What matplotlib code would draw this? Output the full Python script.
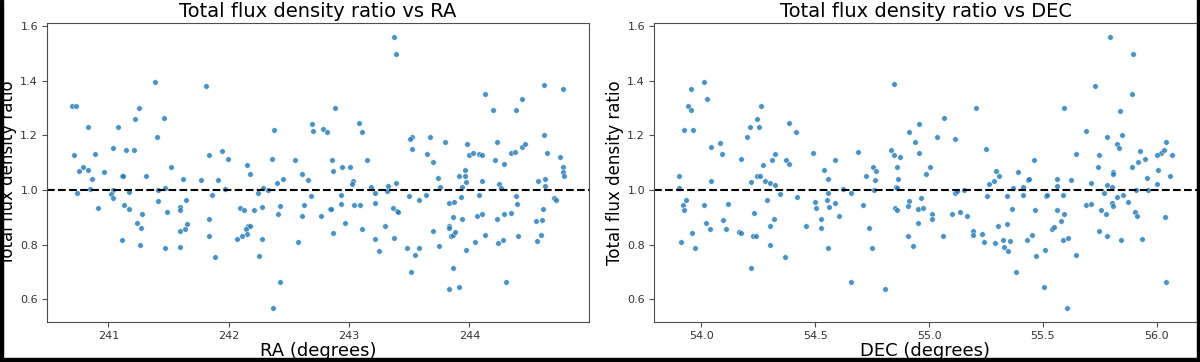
import matplotlib
matplotlib.use('Agg')
import matplotlib.pyplot as plt
from matplotlib.patches import Rectangle
import numpy as np

# Werte: RA-Panel
ra = [240.695, 240.728, 241.390, 241.814, 241.258, 241.222, 241.465, 240.828, 241.080, 241.404,
      240.715, 240.892, 241.036, 241.150, 241.216, 241.839, 241.945, 241.997, 240.753, 240.789,
      240.828, 240.867, 240.967, 241.114, 241.119, 241.313, 241.523, 241.618, 241.770, 241.909,
      240.740, 240.848, 241.036, 241.022, 241.039, 241.172, 241.415, 241.468, 241.972, 241.859,
      240.917, 241.127, 241.172, 241.415, 241.277, 241.485, 241.598, 241.598, 241.643, 241.238,
      241.271, 241.657, 241.637, 241.598, 241.834, 241.839, 241.111, 241.263, 241.471, 241.596,
      241.884,
      243.374, 243.390, 242.886, 242.692, 242.698, 242.377, 242.787, 242.820, 243.083, 243.103,
      243.526, 243.526, 242.150, 242.180, 242.358, 242.551, 242.609, 242.861, 242.867, 242.945,
      243.008, 243.152, 242.400, 242.451, 242.662, 243.036, 243.028, 242.283, 242.324, 242.244,
      242.687, 242.933, 243.183, 243.216, 243.316, 243.324, 243.390, 243.499, 242.091, 242.130,
      242.208, 242.277, 242.427, 242.626, 242.413, 242.609, 242.767, 242.838, 242.846, 242.931,
      243.039, 243.091, 243.219, 243.368, 243.399, 243.410, 242.158, 242.180, 242.141, 242.150,
      242.111, 242.072, 242.274, 242.573, 242.867, 242.964, 243.108, 243.211, 243.296, 243.371,
      243.252, 243.479, 243.546, 242.249, 243.518, 242.427, 242.371,
      244.623, 244.776, 244.125, 244.435, 244.199, 244.385, 243.507, 243.676, 243.795, 243.981,
      244.227, 244.618, 243.645, 243.997, 244.031, 244.080, 244.105, 244.348, 244.379, 244.435,
      244.463, 244.643, 244.756, 243.695, 244.213, 244.288, 243.962, 244.781, 244.781, 244.789,
      243.742, 243.917, 243.961, 243.967, 244.105, 243.753, 243.941, 244.244, 244.263, 244.568,
      244.629, 244.629, 243.582, 243.640, 243.931, 244.080, 244.385, 244.703, 244.715, 243.834,
      243.873, 244.396, 244.607, 243.864, 243.941, 244.061, 244.108, 244.227, 244.283, 244.346,
      244.554, 244.601, 243.701, 243.834, 243.834, 243.848, 243.859, 243.878, 244.133, 244.044,
      244.233, 244.277, 244.407, 244.560, 244.593, 243.748, 243.582, 243.967, 243.864, 243.828,
      243.911, 244.307]
ratio_ra = [1.309, 1.309, 1.396, 1.381, 1.300, 1.262, 1.264, 1.231, 1.231, 1.196,
            1.128, 1.132, 1.154, 1.148, 1.148, 1.128, 1.142, 1.115, 1.069, 1.084,
            1.075, 1.041, 1.067, 1.052, 1.053, 1.053, 1.086, 1.041, 1.036, 1.038,
            0.990, 1.004, 1.002, 0.985, 0.970, 0.993, 0.999, 1.007, 1.004, 0.983,
            0.935, 0.946, 0.931, 0.959, 0.912, 0.919, 0.940, 0.928, 0.962, 0.881,
            0.862, 0.875, 0.856, 0.851, 0.893, 0.831, 0.817, 0.800, 0.788, 0.791,
            0.754,
            1.562, 1.498, 1.300, 1.243, 1.216, 1.221, 1.222, 1.212, 1.244, 1.212,
            1.194, 1.151, 1.093, 1.058, 1.115, 1.111, 1.058, 1.111, 1.069, 1.086,
            1.086, 1.109, 1.027, 1.041, 1.036, 1.033, 1.021, 1.009, 1.001, 0.991,
            0.977, 0.983, 1.010, 0.988, 0.998, 1.016, 1.025, 0.977, 0.935, 0.926,
            0.926, 0.937, 0.943, 0.946, 0.912, 0.904, 0.904, 0.930, 0.930, 0.949,
            0.946, 0.946, 0.954, 0.935, 0.922, 0.921, 0.870, 0.868, 0.856, 0.840,
            0.833, 0.820, 0.820, 0.811, 0.842, 0.879, 0.856, 0.820, 0.867, 0.825,
            0.778, 0.788, 0.763, 0.760, 0.699, 0.664, 0.567,
            1.386, 1.370, 1.351, 1.333, 1.293, 1.295, 1.188, 1.196, 1.177, 1.170,
            1.177, 1.201, 1.131, 1.128, 1.135, 1.132, 1.128, 1.137, 1.140, 1.157,
            1.170, 1.137, 1.123, 1.104, 1.111, 1.095, 1.075, 1.086, 1.067, 1.053,
            1.044, 1.051, 1.051, 1.030, 1.033, 1.011, 1.011, 1.022, 1.009, 1.033,
            1.041, 1.014, 0.965, 0.983, 0.974, 0.983, 0.977, 0.972, 0.965, 0.954,
            0.957, 0.949, 0.932, 0.901, 0.895, 0.906, 0.912, 0.895, 0.912, 0.915,
            0.886, 0.891, 0.851, 0.870, 0.862, 0.832, 0.837, 0.847, 0.836, 0.811,
            0.805, 0.819, 0.833, 0.814, 0.836, 0.796, 0.788, 0.780, 0.715, 0.637,
            0.644, 0.664]

# DEC-Panel
dec = [54.013, 53.954, 54.024, 53.943, 53.954, 54.260, 54.243, 54.215, 54.253, 53.924,
       53.965, 54.202, 54.385, 54.416, 54.081, 54.041, 54.091, 54.174, 54.322, 54.309,
       54.372, 54.385, 54.272, 54.490, 54.537, 53.900, 54.244, 54.256, 53.903, 54.044,
       54.219, 54.279, 54.303, 54.322, 54.343, 54.290, 54.419, 54.556, 53.934, 53.921,
       53.924, 54.013, 54.115, 54.229, 54.094, 54.021, 54.038, 54.107, 54.165, 54.175,
       54.228, 54.238, 54.300, 54.321, 54.303, 53.957, 53.910, 53.971, 54.369, 54.218,
       54.460, 54.497, 54.503, 54.526, 54.526, 54.554, 54.553, 54.560, 54.556,
       54.846, 55.205, 55.066, 54.956, 54.913, 55.037, 55.113, 54.940, 54.833, 54.846,
       54.874, 54.957, 54.688, 54.588, 55.251, 54.756, 54.859, 55.004, 55.293, 54.721,
       54.765, 54.987, 55.308, 54.762, 54.865, 55.263, 55.284, 54.621, 54.657, 54.759,
       54.853, 54.860, 55.115, 55.122, 55.153, 55.254, 55.341, 54.585, 54.712, 54.604,
       54.851, 54.859, 54.913, 54.906, 54.966, 54.953, 54.974, 55.013, 55.013, 55.103,
       55.137, 55.165, 54.950, 54.738, 54.906, 54.929, 55.060, 55.194, 55.194, 55.234,
       55.241, 55.291, 55.301, 55.325, 55.329, 55.348, 55.344, 55.354, 54.748, 54.657,
       54.808,
       55.794, 55.897, 55.729, 55.891, 55.592, 55.841, 55.690, 55.781, 55.849, 55.825,
       55.835, 56.043, 56.021, 56.031, 56.001, 56.069, 55.928, 55.949, 55.647, 55.747,
       55.463, 55.741, 55.894, 55.918, 56.004, 55.391, 55.808, 55.810, 56.061, 55.959,
       55.434, 55.441, 55.562, 55.624, 55.710, 56.001, 55.369, 55.412, 55.563, 55.784,
       55.806, 55.910, 55.963, 55.771, 55.415, 55.516, 55.519, 55.587, 55.853, 55.825,
       55.875, 55.803, 55.810, 55.688, 55.710, 55.365, 55.466, 55.562, 55.754, 55.778,
       55.595, 55.904, 55.912, 55.579, 55.540, 55.547, 56.035, 55.747, 55.784, 55.844,
       55.935, 55.451, 55.431, 55.590, 55.610, 55.509, 55.472, 55.647, 55.382, 55.503,
       55.607, 56.043]
ratio_dec = [1.396, 1.370, 1.335, 1.309, 1.295, 1.309, 1.262, 1.231, 1.231, 1.221,
             1.221, 1.196, 1.244, 1.212, 1.172, 1.157, 1.132, 1.115, 1.132, 1.109,
             1.112, 1.095, 1.093, 1.137, 1.075, 1.053, 1.051, 1.051, 1.009, 1.033,
             1.030, 1.033, 1.027, 1.020, 0.985, 0.965, 0.974, 1.041, 0.962, 0.946,
             0.928, 0.946, 0.949, 0.915, 0.891, 0.879, 0.856, 0.856, 0.848, 0.842,
             0.831, 0.832, 0.870, 0.893, 0.799, 0.842, 0.811, 0.788, 0.754, 0.715,
             0.870, 0.957, 0.935, 0.895, 0.862, 0.990, 0.965, 0.937, 0.788,
             1.388, 1.300, 1.264, 1.243, 1.214, 1.196, 1.188, 1.177, 1.148, 1.128,
             1.123, 1.135, 1.140, 1.111, 1.151, 1.086, 1.086, 1.084, 1.069, 1.053,
             1.069, 1.058, 1.053, 1.038, 1.041, 1.022, 1.032, 1.005, 0.990, 0.999,
             1.011, 1.009, 0.989, 0.995, 1.000, 0.977, 0.977, 0.953, 0.946, 0.904,
             0.935, 0.926, 0.959, 0.941, 0.972, 0.931, 0.935, 0.912, 0.895, 0.912,
             0.919, 0.906, 0.881, 0.862, 0.833, 0.796, 0.831, 0.851, 0.836, 0.838,
             0.811, 0.805, 0.867, 0.819, 0.790, 0.778, 0.877, 0.814, 0.788, 0.664,
             0.637,
             1.562, 1.498, 1.381, 1.351, 1.300, 1.291, 1.216, 1.194, 1.201, 1.170,
             1.154, 1.177, 1.137, 1.148, 1.128, 1.128, 1.142, 1.115, 1.132, 1.128,
             1.111, 1.086, 1.086, 1.104, 1.075, 1.067, 1.067, 1.058, 1.051, 1.044,
             1.036, 1.041, 1.041, 1.036, 1.025, 1.022, 1.009, 1.011, 1.014, 1.017,
             1.011, 1.002, 1.001, 0.991, 0.983, 0.979, 0.983, 0.983, 0.983, 0.974,
             0.957, 0.954, 0.943, 0.946, 0.949, 0.932, 0.928, 0.928, 0.926, 0.912,
             0.912, 0.920, 0.904, 0.886, 0.856, 0.865, 0.901, 0.849, 0.833, 0.816,
             0.820, 0.836, 0.819, 0.819, 0.825, 0.780, 0.760, 0.763, 0.699, 0.646,
             0.567, 0.664]

fig = plt.figure(figsize=(12, 3.62), dpi=100)
ax1 = fig.add_axes([0.0392, 0.1105, 0.4517, 0.826])
ax2 = fig.add_axes([0.545, 0.1105, 0.4525, 0.826])

for ax, x, y, lab, name in [(ax1, ra, ratio_ra, 'RA (degrees)', 'RA'),
                            (ax2, dec, ratio_dec, 'DEC (degrees)', 'DEC')]:
    ax.scatter(x, y, s=16, c='#1f77b4', alpha=0.8, edgecolors='white', linewidths=0.4)
    ax.axhline(1.0, color='k', ls='--', lw=1.5)
    ax.set_title('Total flux density ratio vs ' + name, fontsize=14, pad=4)
    ax.set_xlabel(lab, fontsize=13, labelpad=1)
    ax.set_ylabel('Total flux density ratio', fontsize=12, labelpad=2)
    ax.tick_params(labelsize=8, labelcolor='0.2', color='0.3', length=3.5, pad=3)
    for sp in ax.spines.values():
        sp.set_color('0.3')

ax2.set_xticks([54.0, 54.5, 55.0, 55.5, 56.0])

# schwarzer Rand wie im Original
fig.patches.extend([
    Rectangle((0, 0), 3/1200, 1, transform=fig.transFigure, color='k', zorder=10),
    Rectangle((0, 0), 1, 4/362, transform=fig.transFigure, color='k', zorder=10),
    Rectangle((1 - 3/1200, 0), 3/1200, 1, transform=fig.transFigure, color='k', zorder=10),
])

plt.savefig('out.png', dpi=100)
